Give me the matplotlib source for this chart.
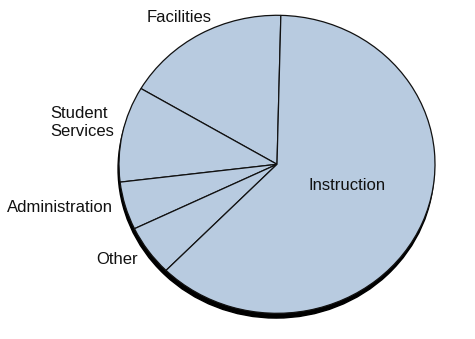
import matplotlib
matplotlib.use("Agg")
import matplotlib.pyplot as plt
from matplotlib.patches import Circle

plt.rcParams['font.family'] = ['Liberation Sans', 'DejaVu Sans']

# spending shares (percent), counterclockwise from the top
categories = ["Facilities", "Student\nServices", "Administration", "Other", "Instruction"]
shares = [16.9, 10.4, 5.2, 5.5, 62.0]

fill = "#b8cbe0"

W, H = 475, 339
fig = plt.figure(figsize=(W / 100, H / 100), dpi=100)
ax = fig.add_axes([0, 0, 1, 1])

# drop shadow under the pie
ax.add_patch(Circle((-0.006, -0.032), 1.0, color="black", zorder=0))

ax.pie(shares, startangle=88.6, counterclock=True, radius=1.0,
       colors=[fill] * len(shares),
       wedgeprops=dict(edgecolor="#111111", linewidth=0.9, zorder=1))

# pie is slightly squashed: 158 px wide radius, 149 px tall radius
cx, cy = 277, 164.3
rx, ry = 158, 149
ax.set_aspect("auto")
ax.set_xlim(-cx / rx, (W - cx) / rx)
ax.set_ylim(-(H - cy) / ry, cy / ry)
ax.axis("off")

# label positions in pixels (from top left)
label_pos = {
    "Facilities": (179, 17, "center"),
    "Student\nServices": (50, 123, "left"),
    "Administration": (60, 208, "center"),
    "Other": (117, 259, "center"),
    "Instruction": (347, 186, "center"),
}
for name in categories:
    x, y, ha = label_pos[name]
    fig.text(x / W, 1 - y / H, name, ha=ha, va="center", fontsize=12,
             linespacing=1.25, color="#111111")

fig.savefig("out.png", dpi=100)
